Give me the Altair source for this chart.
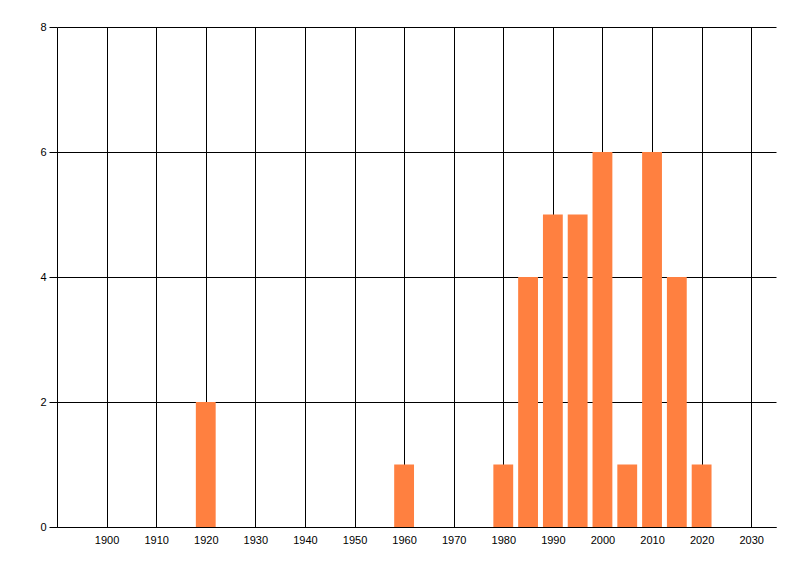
import altair as alt
import pandas as pd

# Counts per year
years = [1920, 1960, 1980, 1985, 1990, 1995, 2000, 2005, 2010, 2015, 2020]
counts = [2, 1, 1, 4, 5, 5, 6, 1, 6, 4, 1]

x_ticks = list(range(1900, 2031, 10))
y_ticks = [0, 2, 4, 6, 8]

df = pd.DataFrame({'year': years, 'count': counts})

bars = alt.Chart(df).transform_calculate(
    start='datum.year - 2',
    end='datum.year + 2'
).mark_rect(color='#FF8040').encode(
    x=alt.X(
        'start:Q',
        title=None,
        scale=alt.Scale(domain=[1890, 2035], nice=False, zero=False),
        axis=alt.Axis(
            values=x_ticks,
            format='d',
            ticks=False,
            labelPadding=7,
            gridColor='black',
            gridOpacity=1,
            domainColor='black',
            labelColor='black'
        )
    ),
    x2='end:Q',
    y=alt.Y(
        'count:Q',
        title=None,
        scale=alt.Scale(domain=[0, 8], nice=False),
        axis=alt.Axis(
            values=y_ticks,
            tickSize=8,
            tickColor='black',
            labelPadding=3,
            gridColor='black',
            gridOpacity=1,
            domainColor='black',
            labelColor='black'
        )
    ),
    y2=alt.datum(0)
)

chart = bars.properties(
    width=719,
    height=500,
    autosize=alt.AutoSizeParams(type='none'),
    padding={'left': 49, 'top': 19, 'right': 16, 'bottom': 41}
).configure(
    font='Liberation Sans'
).configure_axis(
    labelFontSize=11,
    domainWidth=1,
    gridWidth=1
).configure_view(
    stroke=None
)

chart.save("out.html", embed_options={"renderer": "svg", "actions": False})
